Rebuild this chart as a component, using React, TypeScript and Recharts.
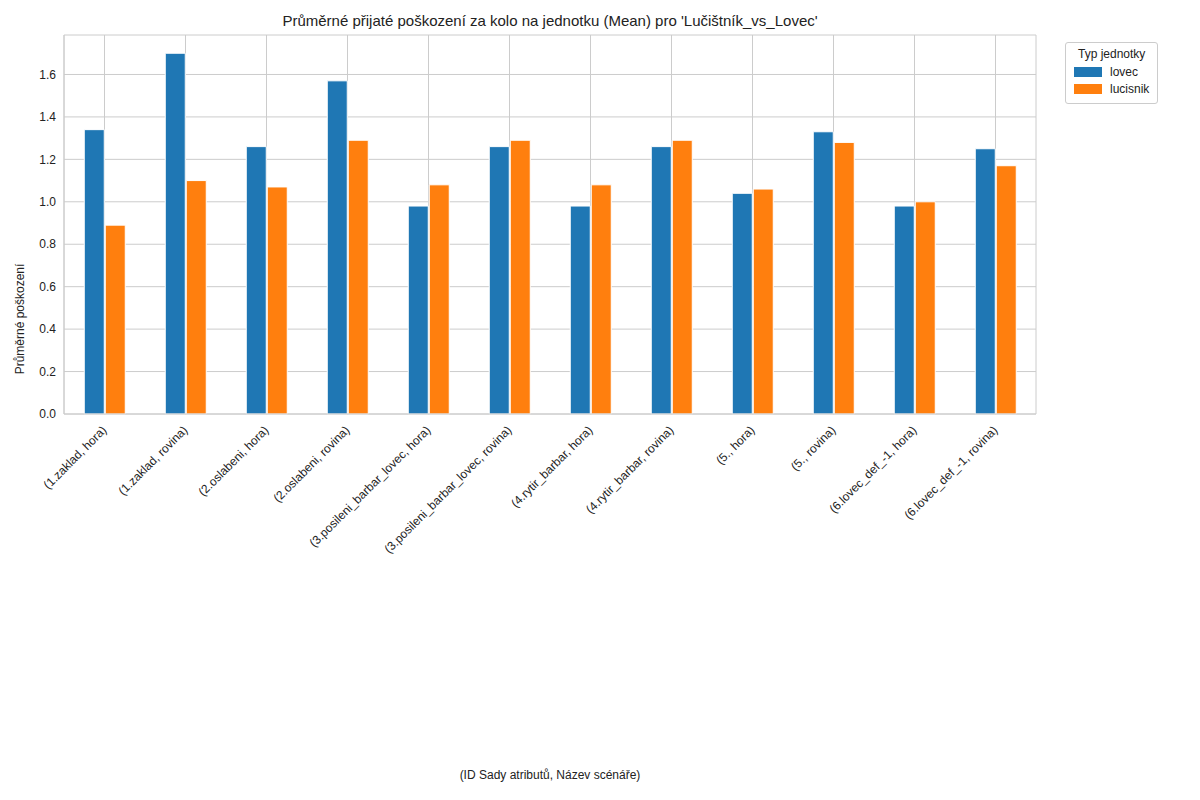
import { BarChart, Bar, XAxis, YAxis, CartesianGrid } from 'recharts';

const categories = [
  '(1.zaklad, hora)', '(1.zaklad, rovina)', '(2.oslabeni, hora)', '(2.oslabeni, rovina)',
  '(3.posileni_barbar_lovec, hora)', '(3.posileni_barbar_lovec, rovina)', '(4.rytir_barbar, hora)',
  '(4.rytir_barbar, rovina)', '(5., hora)', '(5., rovina)', '(6.lovec_def_-1, hora)', '(6.lovec_def_-1, rovina)',
];
const lovec = [1.34, 1.70, 1.26, 1.57, 0.98, 1.26, 0.98, 1.26, 1.04, 1.33, 0.98, 1.25];
const lucisnik = [0.89, 1.10, 1.07, 1.29, 1.08, 1.29, 1.08, 1.29, 1.06, 1.28, 1.00, 1.17];
const yTicks = [0, 0.2, 0.4, 0.6, 0.8, 1.0, 1.2, 1.4, 1.6];

const data = categories.map((name, i) => ({ name, lovec: lovec[i], lucisnik: lucisnik[i] }));

const font = 'Liberation Sans, Arial, sans-serif';

const RotTick = (props: any) => {
  const { x, y, payload } = props;
  return (
    <text x={x} y={y + 6} transform={`rotate(-45 ${x} ${y + 6})`} textAnchor="end" fontSize={12} fill="#222" dy={4}>
      {payload.value}
    </text>
  );
};

const LegendBox = () => (
  <div style={{ border: '1px solid #ccc', borderRadius: 3, padding: '4px 8px', fontSize: 12, background: '#fff', color: '#222', fontFamily: font }}>
    <div style={{ textAlign: 'center', marginBottom: 4 }}>Typ jednotky</div>
    {[['lovec', '#1f77b4'], ['lucisnik', '#ff7f0e']].map(([n, c]) => (
      <div key={n} style={{ display: 'flex', alignItems: 'center', marginBottom: 3 }}>
        <span style={{ width: 28, height: 10, background: c, display: 'inline-block', marginRight: 8 }} />
        {n}
      </div>
    ))}
  </div>
);

export default function App() {
  return (
    <div style={{ position: 'relative', width: 1184, height: 784, fontFamily: font }}>
      <div style={{ position: 'absolute', top: 4, left: 56, width: 972, textAlign: 'center', fontSize: 15, color: '#222' }}>
        Průměrné přijaté poškození za kolo na jednotku (Mean) pro 'Lučištník_vs_Lovec'
      </div>
      <BarChart width={1184} height={784} data={data} margin={{ top: 27, right: 156, bottom: 189, left: 0 }}
        barCategoryGap="25%" barGap={1}>
        <CartesianGrid stroke="#cccccc" />
        <XAxis dataKey="name" interval={0} tick={<RotTick />} tickLine={false} axisLine={{ stroke: '#ccc' }} height={189} />
        <YAxis width={56} domain={[0, 1.786]} ticks={yTicks} tickFormatter={(v: number) => v.toFixed(1)}
          tick={{ fontSize: 12, fill: '#222' }} tickLine={false} axisLine={{ stroke: '#ccc' }} />
        <Bar dataKey="lovec" fill="#1f77b4" stroke="#fff" strokeWidth={1} isAnimationActive={false} />
        <Bar dataKey="lucisnik" fill="#ff7f0e" stroke="#fff" strokeWidth={1} isAnimationActive={false} />
      </BarChart>
      <div style={{ position: 'absolute', top: 34, left: 1057 }}>
        <LegendBox />
      </div>
      <div style={{ position: 'absolute', top: 760, left: 56, width: 972, textAlign: 'center', fontSize: 12, color: '#222' }}>
        (ID Sady atributů, Název scénáře)
      </div>
      <div style={{ position: 'absolute', left: 12, top: 311, transform: 'translate(-50%, -50%) rotate(-90deg)', fontSize: 12, color: '#222', whiteSpace: 'nowrap' }}>
        Průměrné poškození
      </div>
    </div>
  );
}
